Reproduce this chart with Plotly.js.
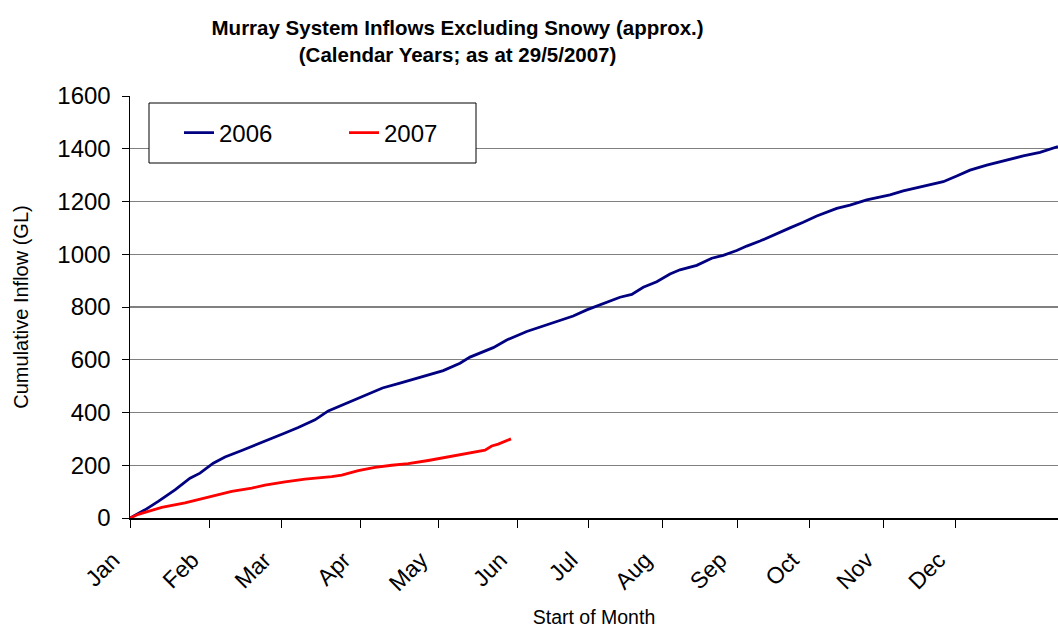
<!DOCTYPE html>
<html>
<head>
<meta charset="utf-8">
<script src="https://cdn.plot.ly/plotly-3.0.1.min.js"></script>
<style>
html,body{margin:0;padding:0;background:#fff;}
#chart{width:1058px;height:628px;}
</style>
</head>
<body>
<div id="chart"></div>
<script>
// x = position along the year (axis index units), y = cumulative inflow (GL)
const x2006 = [0, 6, 11.3, 18, 24, 28, 33.3, 38, 44.7, 51.3, 56, 62, 67.3, 74, 79.3, 86, 92.7, 96.7, 101, 108, 118.7, 125.3, 132, 136, 145.3, 150.7, 158.7, 168, 177.3, 182.7, 188, 192, 196, 200.7, 205.3, 210.7, 216, 220, 226.7, 232.7, 237.3, 242.7, 246.7, 252, 257.3, 264, 269.3, 274.7, 282.7, 288, 294.7, 304, 309.3, 318.7, 325.3, 330.7, 336, 342.7, 349.3, 357.3, 364, 371.2];
const y2006 = [0, 31, 63, 107, 151, 170, 208, 231, 256, 281, 297, 322, 343, 372, 406, 432, 461, 476, 493, 511, 539, 559, 587, 610, 646, 675, 707, 735, 766, 789, 808, 824, 837, 848, 875, 896, 925, 941, 958, 985, 996, 1014, 1031, 1050, 1073, 1100, 1121, 1145, 1174, 1186, 1206, 1225, 1240, 1259, 1275, 1297, 1319, 1338, 1354, 1373, 1386, 1408];
const x2007 = [0, 3.3, 7.3, 12.7, 22, 30, 35.3, 40.7, 48.7, 54, 62, 70, 80.7, 84.7, 91.3, 98, 104.7, 111.3, 119.3, 126, 134, 142, 144.7, 147.3, 152.4];
const y2007 = [0, 14, 25, 40, 57, 75, 88, 101, 113, 125, 137, 147, 157, 163, 180, 192, 200, 206, 218, 229, 244, 257, 273, 280, 300];
const monthLabels = ["Jan","Feb","Mar","Apr","May","Jun","Jul","Aug","Sep","Oct","Nov","Dec"];
const monthPos = [0, 31.7, 60.5, 92.3, 123.2, 155, 183.2, 212.9, 242.9, 271.7, 301.5, 330.3];
const yTicks = [0, 200, 400, 600, 800, 1000, 1200, 1400, 1600];

const FONT = "Liberation Sans, Arial, sans-serif";

const traces = [
  {x: x2006, y: y2006, type: "scatter", mode: "lines", name: "2006",
   line: {color: "#000080", width: 2.8}},
  {x: x2007, y: y2007, type: "scatter", mode: "lines", name: "2007",
   line: {color: "#FF0000", width: 2.8}}
];

const layout = {
  width: 1058, height: 628,
  margin: {l: 130, r: 0, t: 96, b: 110},
  paper_bgcolor: "#fff", plot_bgcolor: "#fff",
  font: {family: FONT, color: "#000"},
  title: {
    text: "<b>Murray System Inflows Excluding Snowy (approx.)<br>(Calendar Years; as at 29/5/2007)</b>",
    font: {family: FONT, size: 20.5, color: "#000"},
    xref: "paper", x: 0.353, xanchor: "center",
    yref: "container", y: 0.9435, yanchor: "middle"
  },
  xaxis: {
    range: [0, 371.2],
    tickmode: "array", tickvals: monthPos, ticktext: monthLabels,
    tickangle: -45, tickfont: {size: 23, family: FONT},
    ticklabelstandoff: 10, ticklabelshift: -17,
    ticks: "outside", ticklen: 8, tickcolor: "#000", tickwidth: 1,
    showline: true, linecolor: "#000", linewidth: 1.5,
    showgrid: false, zeroline: false,
    title: {text: "Start of Month", font: {size: 19.5, family: FONT}, standoff: 15},
    fixedrange: true
  },
  yaxis: {
    range: [0, 1600],
    tickmode: "array", tickvals: yTicks,
    tickfont: {size: 24, family: FONT},
    ticklabelstandoff: 6,
    ticks: "outside", ticklen: 7, tickcolor: "#000", tickwidth: 1,
    showline: true, linecolor: "#000", linewidth: 1.5,
    showgrid: true, gridcolor: "#808080", gridwidth: 1.3,
    zeroline: false,
    title: {text: "Cumulative Inflow (GL)", font: {size: 20, family: FONT}, standoff: 23},
    fixedrange: true
  },
  shapes: [
    {type: "rect", xref: "paper", yref: "paper",
     x0: (149 - 130) / 928, x1: (476 - 130) / 928,
     y0: (518 - 163) / 422, y1: (518 - 103) / 422,
     line: {color: "#000", width: 1}, fillcolor: "#fff", layer: "above"}
  ],
  legend: {
    orientation: "h",
    x: (179 - 130) / 928, xanchor: "left",
    y: (518 - 133) / 422, yanchor: "middle",
    bgcolor: "rgba(0,0,0,0)", borderwidth: 0,
    font: {size: 24, family: FONT, color: "#000"},
    entrywidth: 120
  },
  showlegend: true
};

Plotly.newPlot("chart", traces, layout, {displayModeBar: false, staticPlot: true});
</script>
</body>
</html>
